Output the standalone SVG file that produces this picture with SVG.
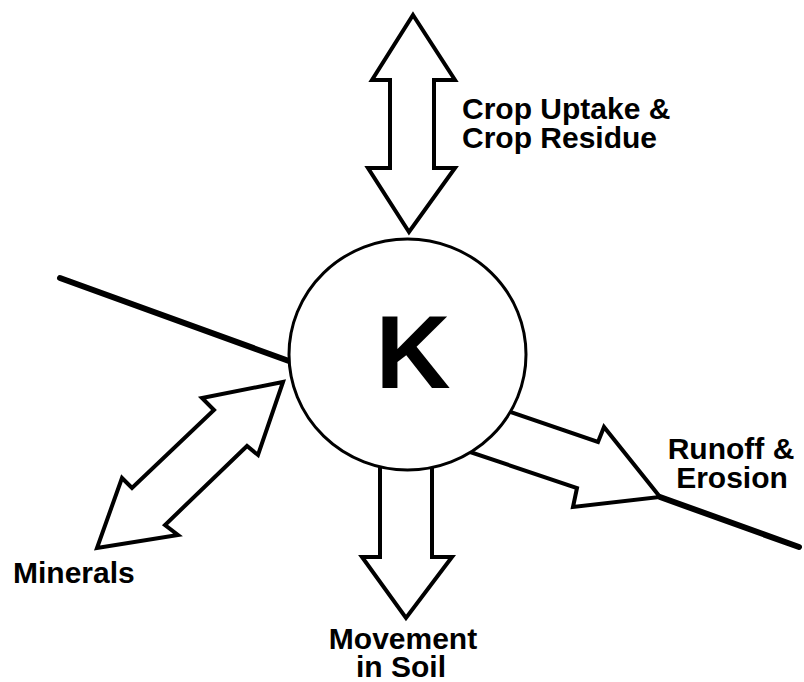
<svg xmlns="http://www.w3.org/2000/svg" width="804" height="682" viewBox="0 0 804 682">
<style>
.arrow{fill:#fff;stroke:#000;stroke-width:4;stroke-linejoin:miter;stroke-miterlimit:10}
.soil{stroke:#000;stroke-width:6;stroke-linecap:round;fill:none}
.lbl{font-family:"Liberation Sans",Arial,Helvetica,sans-serif;font-weight:bold;font-size:30px;fill:#000}
</style>
<rect width="804" height="682" fill="#fff"/>
<g id="connectors">
<line class="soil" x1="60" y1="278" x2="300" y2="365"/>
<line class="soil" x1="660" y1="497" x2="799" y2="547"/>
<polygon class="arrow" points="413,15 455,80 434,80 434,168 455,168 409,232 368,168 390,168 390,80 372,80"/>
<polygon class="arrow" points="380,440 380,557 362,557 406,618 452,557 432,557 432,440"/>
<polygon class="arrow" points="283,382 258,455 247,446 165,525 178,535 97,548 122,478 132,488 214,410 202,398"/>
<polygon class="arrow" points="490,405 598,442 604,427 660,497 573,507 577,488 455,447"/>
</g>
<g id="node-K">
<ellipse cx="407.5" cy="354.5" rx="118.5" ry="115.5" fill="#fff" stroke="#000" stroke-width="3"/>
<text x="413" y="388" text-anchor="middle" style="font-family:'Liberation Sans',Arial,sans-serif;font-weight:bold;font-size:104px">K</text>
</g>
<g id="label-crop">
<text class="lbl" x="462" y="119">Crop Uptake &amp;</text>
<text class="lbl" x="462" y="148">Crop Residue</text>
</g>
<g id="label-runoff">
<text class="lbl" x="731" y="459" text-anchor="middle">Runoff &amp;</text>
<text class="lbl" x="732" y="488" text-anchor="middle">Erosion</text>
</g>
<g id="label-minerals">
<text class="lbl" x="13" y="583">Minerals</text>
</g>
<g id="label-movement">
<text class="lbl" x="403" y="649" text-anchor="middle">Movement</text>
<text class="lbl" x="401" y="677" text-anchor="middle">in Soil</text>
</g>
</svg>
